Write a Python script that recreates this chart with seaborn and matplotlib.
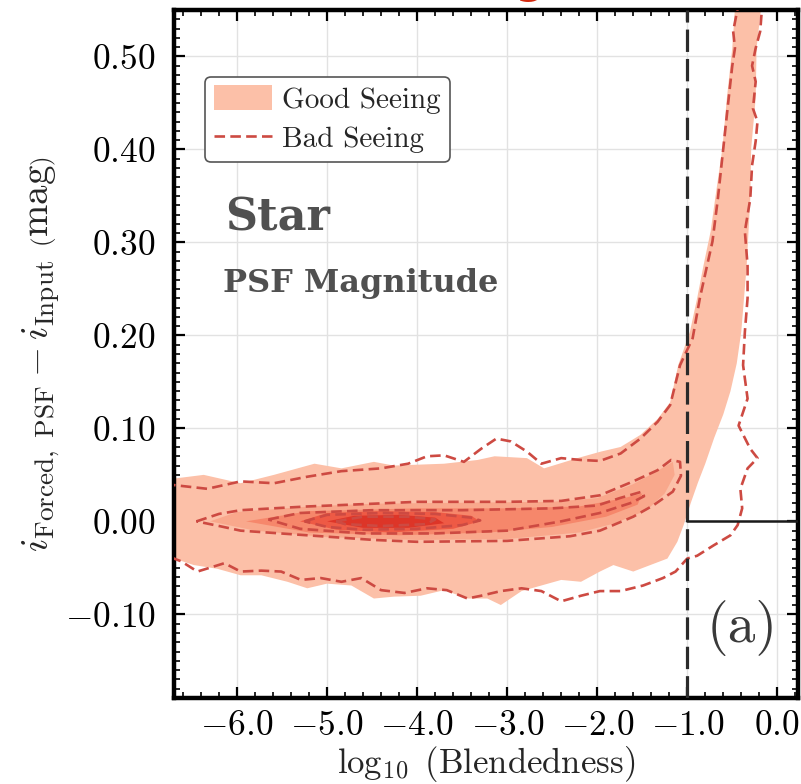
import numpy as np
import pandas as pd
import seaborn as sns
import matplotlib
matplotlib.use("Agg")
import matplotlib.pyplot as plt
from matplotlib.patches import Patch
from matplotlib.lines import Line2D
from matplotlib.ticker import MultipleLocator, FuncFormatter

# ---------------- data (contour outlines) ----------------
# Good Seeing: filled density levels (outer -> inner)
good1_x = [-6.8, -6.7, -6.37, -5.96, -5.59, -5.14, -4.84, -4.48, -4.26, -3.70, -3.33, -3.14, -2.78, -2.59,
           -2.22, -1.96, -1.74, -1.52, -1.33, -1.19, -1.10, -0.97, -0.89, -0.82, -0.74, -0.69, -0.61, -0.56,
           -0.50, -0.47, -0.46, -0.17, -0.18, -0.23, -0.24, -0.29, -0.30, -0.34, -0.40, -0.45, -0.52, -0.60,
           -0.70, -0.80, -0.88, -0.96, -1.01, -1.04, -1.11, -1.22, -1.41, -1.60, -1.82, -1.97, -2.18, -2.40,
           -2.62, -2.84, -3.07, -3.22, -3.44, -3.70, -3.96, -4.26, -4.48, -4.73, -5.00, -5.22, -5.44, -5.73,
           -5.96, -6.22, -6.48, -6.70, -6.8]
good1_y = [0.046, 0.046, 0.050, 0.041, 0.050, 0.062, 0.057, 0.064, 0.060, 0.062, 0.066, 0.070, 0.068, 0.057,
           0.068, 0.075, 0.080, 0.093, 0.110, 0.128, 0.168, 0.204, 0.240, 0.275, 0.312, 0.347, 0.401, 0.455,
           0.509, 0.552, 0.600, 0.600, 0.552, 0.509, 0.455, 0.401, 0.347, 0.275, 0.204, 0.170, 0.140, 0.115,
           0.090, 0.062, 0.042, 0.020, 0.005, -0.004, -0.022, -0.040, -0.047, -0.054, -0.047, -0.054, -0.065,
           -0.063, -0.069, -0.075, -0.090, -0.083, -0.083, -0.074, -0.080, -0.081, -0.083, -0.069, -0.067,
           -0.072, -0.065, -0.058, -0.058, -0.051, -0.047, -0.040, -0.040]

good2_x = [-6.30, -6.00, -5.20, -4.50, -3.50, -2.50, -2.00, -1.60, -1.30, -1.16, -1.14, -1.25, -1.45, -1.80,
           -2.20, -3.00, -4.00, -5.00, -5.80, -6.30]
good2_y = [0.000, 0.010, 0.016, 0.019, 0.020, 0.021, 0.025, 0.040, 0.056, 0.064, 0.050, 0.030, 0.012, -0.002,
           -0.012, -0.019, -0.020, -0.017, -0.010, 0.000]

good3_x = [-5.90, -5.20, -4.00, -3.00, -2.20, -1.70, -1.50, -1.55, -1.90, -2.50, -3.20, -4.20, -5.20, -5.90]
good3_y = [0.000, 0.011, 0.014, 0.014, 0.016, 0.025, 0.030, 0.018, 0.005, -0.006, -0.012, -0.015, -0.012, 0.000]

good4_x = [-5.30, -5.00, -4.40, -3.80, -3.40, -3.30, -3.60, -4.30, -4.90, -5.30]
good4_y = [0.000, 0.009, 0.011, 0.010, 0.006, 0.000, -0.008, -0.012, -0.009, 0.000]

good5_x = [-5.00, -4.70, -4.20, -3.80, -3.70, -4.10, -4.60, -5.00]
good5_y = [0.000, 0.006, 0.007, 0.004, -0.002, -0.007, -0.007, 0.000]

# Bad Seeing: dashed contour lines (outer -> inner)
bad1_x = [-6.80, -6.70, -6.33, -5.96, -5.59, -5.22, -4.84, -4.40, -4.10, -3.89, -3.70, -3.48, -3.29, -3.12,
          -2.96, -2.78, -2.62, -2.40, -2.18, -1.97, -1.74, -1.52, -1.33, -1.19, -1.08, -0.94, -0.86, -0.78,
          -0.72, -0.66, -0.60, -0.54, -0.50, -0.47, -0.49, -0.44, -0.43, -0.17, -0.17, -0.19, -0.24, -0.28,
          -0.24, -0.27, -0.22, -0.24, -0.28, -0.30, -0.36, -0.33, -0.33, -0.36, -0.38, -0.33, -0.43, -0.30,
          -0.22, -0.33, -0.41, -0.39, -0.44, -0.52, -0.71, -0.89, -1.00, -1.13, -1.27, -1.49, -1.74, -1.97,
          -2.18, -2.40, -2.62, -2.84, -3.07, -3.29, -3.44, -3.67, -3.89, -4.14, -4.40, -4.62, -4.84, -5.07,
          -5.29, -5.51, -5.73, -5.96, -6.14, -6.44, -6.62, -6.70, -6.80]
bad1_y = [0.039, 0.039, 0.035, 0.043, 0.041, 0.048, 0.054, 0.057, 0.062, 0.070, 0.071, 0.064, 0.078, 0.089,
          0.086, 0.075, 0.062, 0.068, 0.066, 0.065, 0.073, 0.089, 0.107, 0.125, 0.168, 0.197, 0.240, 0.275,
          0.301, 0.347, 0.401, 0.455, 0.490, 0.509, 0.527, 0.552, 0.600, 0.600, 0.552, 0.527, 0.509, 0.490,
          0.473, 0.444, 0.430, 0.409, 0.383, 0.347, 0.312, 0.275, 0.240, 0.204, 0.168, 0.132, 0.103, 0.078,
          0.068, 0.057, 0.035, 0.014, -0.004, -0.015, -0.026, -0.037, -0.040, -0.054, -0.061, -0.069, -0.075,
          -0.075, -0.080, -0.086, -0.075, -0.072, -0.075, -0.080, -0.083, -0.074, -0.072, -0.077, -0.074,
          -0.061, -0.065, -0.061, -0.063, -0.054, -0.053, -0.054, -0.045, -0.054, -0.043, -0.040, -0.038]

bad2_x = [-6.45, -6.20, -5.96, -5.60, -5.22, -4.48, -4.00, -3.00, -2.40, -1.97, -1.60, -1.33, -1.18, -1.08,
          -1.07, -1.16, -1.38, -1.60, -1.97, -2.30, -3.00, -4.00, -4.48, -5.22, -5.96, -6.20, -6.45]
bad2_y = [0.000, 0.008, 0.012, 0.014, 0.016, 0.019, 0.021, 0.021, 0.022, 0.028, 0.043, 0.055, 0.066, 0.064,
          0.049, 0.032, 0.017, 0.005, -0.010, -0.016, -0.021, -0.022, -0.020, -0.015, -0.010, -0.005, 0.000]

bad3_x = [-5.65, -5.30, -4.50, -3.50, -2.50, -2.00, -1.75, -1.50, -1.48, -1.62, -1.97, -2.40, -3.00, -3.80,
          -4.60, -5.30, -5.65]
bad3_y = [0.002, 0.009, 0.012, 0.012, 0.014, 0.017, 0.025, 0.032, 0.027, 0.020, 0.009, 0.000, -0.010, -0.013,
          -0.013, -0.008, 0.002]

bad4_x = [-5.25, -5.00, -4.40, -3.80, -3.40, -3.30, -3.50, -4.00, -4.60, -5.00, -5.25]
bad4_y = [0.000, 0.007, 0.009, 0.008, 0.004, 0.001, -0.004, -0.008, -0.009, -0.006, 0.000]

bad5_x = [-4.90, -4.60, -4.10, -3.80, -3.90, -4.40, -4.80, -4.90]
bad5_y = [0.000, 0.005, 0.005, 0.002, -0.003, -0.005, -0.003, 0.000]

good_levels = [(good1_x, good1_y), (good2_x, good2_y), (good3_x, good3_y), (good4_x, good4_y), (good5_x, good5_y)]
bad_levels = [(bad1_x, bad1_y), (bad2_x, bad2_y), (bad3_x, bad3_y), (bad4_x, bad4_y), (bad5_x, bad5_y)]

x_ticks = [-6.0, -5.0, -4.0, -3.0, -2.0, -1.0, 0.0]
y_ticks = [-0.10, 0.00, 0.10, 0.20, 0.30, 0.40, 0.50]
blend_cut = -1.0

# ---------------- style ----------------
sns.set_theme(style="ticks")
plt.rcParams.update({
    "font.family": ["cmr10", "DejaVu Serif"],
    "mathtext.fontset": "cm",
    "axes.formatter.use_mathtext": True,
    "axes.unicode_minus": False,
})

good_colors = ["#fcc0a8", "#f9a88c", "#f6876b", "#ee5a45", "#dd3528"]
bad_color = "#cd4a42"
dash_style = (0, (4, 2.0))

fig = plt.figure(figsize=(8.01, 7.84), dpi=100)
ax = fig.add_axes([174 / 801, 1 - 698 / 784, 624 / 801, 688 / 784])

for (gx, gy), c in zip(good_levels, good_colors):
    ax.fill(gx, gy, color=c, lw=0, zorder=1)

for bx, by in bad_levels:
    df = pd.DataFrame({"x": bx, "y": by})
    sns.lineplot(data=df, x="x", y="y", sort=False, estimator=None, ax=ax,
                 color=bad_color, lw=1.9, linestyle=dash_style, zorder=3)

ax.axvline(blend_cut, color="#2a2a2a", lw=2.3, linestyle=(0, (7, 2.2)), zorder=4)
ax.plot([blend_cut, 0.5], [0.0, 0.0], color="#1a1a1a", lw=1.8, zorder=4)

ax.set_xlim(-6.7, 0.23)
ax.set_ylim(-0.19, 0.55)
ax.set_xticks(x_ticks)
ax.set_yticks(y_ticks)
ax.xaxis.set_minor_locator(MultipleLocator(0.2))
ax.yaxis.set_minor_locator(MultipleLocator(0.01))
ax.xaxis.set_major_formatter(FuncFormatter(lambda v, p: f"${v:.1f}$"))
ax.yaxis.set_major_formatter(FuncFormatter(lambda v, p: f"${v:.2f}$"))
ax.tick_params(which="both", direction="in", top=True, right=True, colors="black", labelsize=25.5)
ax.tick_params(axis="y", which="major", pad=13)
ax.tick_params(axis="x", which="major", pad=9)
ax.tick_params(which="major", length=8, width=1.6)
ax.tick_params(which="minor", length=4, width=1.2)
ax.grid(True, which="major", color="#e2e2e2", lw=1.0)
ax.set_axisbelow(True)
for s in ax.spines.values():
    s.set_linewidth(3.2)
    s.set_color("black")

ax.set_xlabel(r"$\log_{10}\ \mathrm{(Blendedness)}$", fontsize=25, labelpad=1)
ax.set_ylabel(r"$i_{\mathrm{Forced,\ PSF}} - i_{\mathrm{Input}}\ \left(\mathrm{mag}\right)$", fontsize=28, labelpad=2)

handles = [Patch(facecolor=good_colors[0], edgecolor="none", label="Good Seeing"),
           Line2D([0], [0], color=bad_color, lw=1.9, linestyle=dash_style, label="Bad Seeing")]
leg = ax.legend(handles=handles, loc="upper left", bbox_to_anchor=(0.05, 0.903), borderaxespad=0,
                fontsize=21, frameon=True, fancybox=True, framealpha=1, edgecolor="#555555",
                handlelength=2.0, handleheight=0.9, handletextpad=0.35, borderpad=0.3, labelspacing=0.4)
leg.get_frame().set_linewidth(1.2)

ax.text(0.082, 0.680, "Star", transform=ax.transAxes, fontsize=32, color="#505050",
        family="DejaVu Serif", weight="bold", va="baseline", ha="left")
ax.text(0.079, 0.590, "PSF Magnitude", transform=ax.transAxes, fontsize=23, color="#505050",
        family="DejaVu Serif", weight="bold", va="baseline", ha="left")
ax.text(0.91, 0.102, "(a)", transform=ax.transAxes, fontsize=40, color="#3a3a3a",
        va="center", ha="center")

fig.text(545 / 801, 1 + 7 / 784, "Seeing", color="#d42a10", fontsize=30, weight="bold",
         family="DejaVu Sans", ha="right", va="baseline")

fig.savefig("out.png", dpi=100)
